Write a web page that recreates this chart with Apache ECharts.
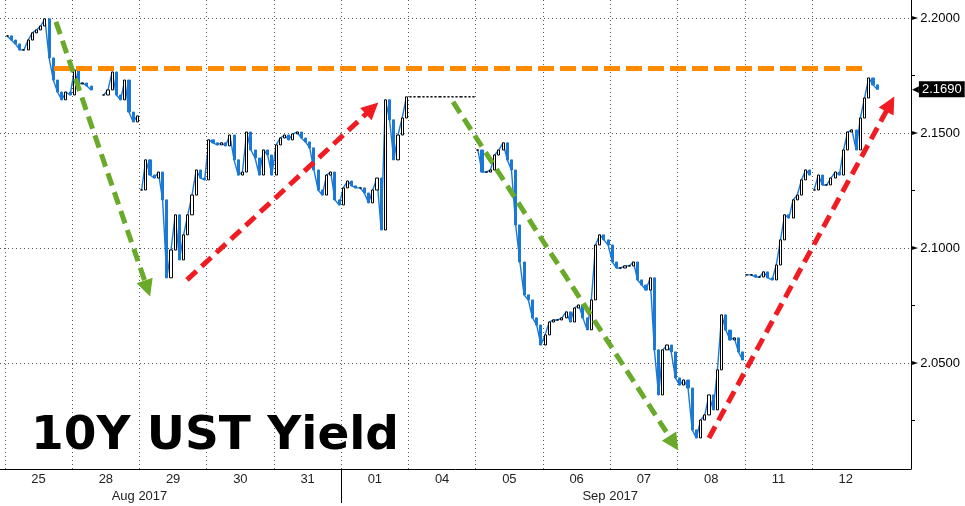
<!DOCTYPE html>
<html><head><meta charset="utf-8">
<script src="https://cdn.jsdelivr.net/npm/echarts@6/dist/echarts.min.js"></script>
<style>html,body{margin:0;padding:0;background:#fff}#c{width:965px;height:506px}</style>
</head><body><div id="c"></div>
<script>
// ---- axis text ----
const dayLabels = ['25','28','29','30','31','01','04','05','06','07','08','11','12'];
const monthLabels = ['Aug 2017','Sep 2017'];
const monthLabelAt = [2, 9];       // day boundary under which each month name sits
const monthBreakAt = [5];          // boundary between Aug and Sep
const yLabelValues = [2.05, 2.10, 2.15, 2.20];
const yMinorTicks = [2.025, 2.075, 2.125, 2.175];
const lastValue = 2.169;
const yMin = 2.0039, yMax = 2.2078;
const xMin = -0.074, xMax = 13.472;

// ---- intraday yields, 16 readings per trading day ----
const samplesPerDay = 16;
const sessionStartDays = [2, 7, 11, 12];   // days that open after a gap
const d25 = [2.1922,2.1904,2.1887,2.1861,2.1861,2.1904,2.1935,2.1948,2.1965,2.1996,2.1826,2.1730,2.1678,2.1644,2.1678,2.1665];
const d28 = [2.1774,2.1713,2.1717,2.1704,2.1687,null,null,2.1665,2.1687,2.1765,2.1665,2.1644,2.1730,2.1591,2.1548,2.1574];
const d29 = [2.1252,2.1383,2.1317,2.1304,2.1330,2.1209,2.0870,2.0991,2.1144,2.0948,2.1057,2.1144,2.1230,2.1339,2.1304,2.1296];
const d30 = [2.1470,2.1457,2.1448,2.1457,2.1444,2.1491,2.1383,2.1317,2.1330,2.1504,2.1426,2.1391,2.1317,2.1426,2.1404,2.1317];
const d31 = [2.1448,2.1478,2.1491,2.1470,2.1496,2.1504,2.1478,2.1461,2.1435,2.1339,2.1252,2.1230,2.1317,2.1330,2.1209,2.1187];
const d01 = [2.1261,2.1291,2.1270,2.1261,2.1261,2.1239,2.1196,2.1252,2.1304,2.1078,2.1644,2.1557,2.1383,2.1491,2.1565,2.1657];
const d04 = [2.1657,2.1657,2.1657,2.1657,2.1657,2.1657,2.1657,2.1657,2.1657,2.1657,2.1657,2.1657,2.1657,2.1657,2.1657,2.1657];
const d05 = [2.1426,2.1330,2.1330,2.1339,2.1404,2.1426,2.1457,2.1383,2.1339,2.1100,2.0939,2.0796,2.0774,2.0696,2.0665,2.0578];
const d06 = [2.0622,2.0678,2.0687,2.0687,2.0696,2.0722,2.0678,2.0739,2.0752,2.0696,2.0644,2.0774,2.1013,2.1057,2.1035,2.1013];
const d07 = [2.0939,2.0913,2.0913,2.0922,2.0922,2.0939,2.0861,2.0839,2.0817,2.0870,2.0557,2.0361,2.0557,2.0578,2.0548,2.0435];
const d08 = [2.0404,2.0426,2.0391,2.0209,2.0174,2.0252,2.0274,2.0361,2.0296,2.0470,2.0709,2.0643,2.0600,2.0609,2.0548,2.0513];
const d11 = [2.0883,2.0883,2.0874,2.0874,2.0896,2.0870,2.0861,2.0926,2.1035,2.1144,2.1130,2.1209,2.1230,2.1296,2.1339,2.1317];
const d12 = [2.1252,2.1317,2.1274,2.1274,2.1304,2.1330,2.1317,2.1426,2.1504,2.1513,2.1426,2.1565,2.1652,2.1739,2.1709,2.1690];
const days = [d25,d28,d29,d30,d31,d01,d04,d05,d06,d07,d08,d11,d12];
const holidayDays = [6];

// ---- annotations (day-index, yield) ----
const resistanceLevel = 2.1783;
const resistanceSpan = [0.729, 12.833];
const greenArrows = [[[0.758,2.1983],[2.117,2.0824]], [[6.662,2.1635],[9.943,2.0151]]];
const redArrows = [[[2.706,2.0861],[5.459,2.1607]], [[10.468,2.0174],[13.163,2.1626]]];

// ---- build OHLC candles and the close line from consecutive readings ----
const candles = [];
const closeLine = [];
let prev = null;
days.forEach((arr, d) => {
  arr.forEach((v, k) => {
    const t = d + (k + 0.5) / samplesPerDay;
    if (v == null) { prev = null; closeLine.push([t, null]); return; }
    const newSession = (k === 0 && sessionStartDays.includes(d));
    if (newSession) closeLine.push([t - 0.5 / samplesPerDay, null]);
    const open = (prev == null || newSession) ? v : prev;
    candles.push([t, open, v, Math.min(open, v), Math.max(open, v)]);
    closeLine.push([t, holidayDays.includes(d) ? null : v]);
    prev = v;
  });
});

const gridLineStyle = { color: '#555', width: 1, type: [1, 3] };
const gridMarks = yLabelValues.map(v => ({ yAxis: v }))
  .concat(dayLabels.map((_, i) => ({ xAxis: i })));

const arrowLine = (pair, color) => [
  { coord: pair[0], symbol: 'none', lineStyle: { color, width: 5, type: [13, 7] } },
  { coord: pair[1], symbol: 'triangle', symbolSize: [17, 17], itemStyle: { color } }
];
const annotations = [
  [ { coord: [resistanceSpan[0], resistanceLevel], symbol: 'none', lineStyle: { color: '#ff8a00', width: 5, type: [16, 6] } },
    { coord: [resistanceSpan[1], resistanceLevel], symbol: 'none' } ]
].concat(greenArrows.map(p => arrowLine(p, '#6aaa2a')))
 .concat(redArrows.map(p => arrowLine(p, '#f01c22')));

const chart = echarts.init(document.getElementById('c'));
chart.setOption({
  animation: false,
  backgroundColor: '#fff',
  title: {
    text: '10Y UST Yield', left: 26, top: 408,
    textStyle: { fontFamily: 'DejaVu Sans', fontWeight: 'bold', fontSize: 47, color: '#000' }
  },
  grid: { left: 0, right: 54, top: 0, bottom: 37, containLabel: false, outerBoundsMode: 'none' },
  xAxis: [
    {
      type: 'value', min: xMin, max: xMax, position: 'bottom',
      axisLine: { show: true, onZero: false, lineStyle: { color: '#000', width: 1 } },
      axisTick: { show: false },
      splitLine: { show: false },
      axisLabel: {
        customValues: dayLabels.map((_, i) => i + 0.5),
        formatter: v => dayLabels[Math.floor(v)],
        margin: 4, fontSize: 13, color: '#222', fontFamily: 'Liberation Sans'
      }
    },
    {
      type: 'value', min: xMin, max: xMax, position: 'bottom',
      axisLine: { show: false, onZero: false },
      axisTick: { show: true, customValues: monthBreakAt, length: 34, lineStyle: { color: '#000', width: 1 } },
      splitLine: { show: false },
      axisLabel: {
        customValues: monthLabelAt,
        formatter: v => monthLabels[monthLabelAt.indexOf(Math.round(v))],
        margin: 21, fontSize: 13, color: '#222', fontFamily: 'Liberation Sans'
      }
    }
  ],
  yAxis: {
    type: 'value', position: 'right', min: yMin, max: yMax,
    axisLine: { show: true, onZero: false, lineStyle: { color: '#000', width: 1 } },
    axisTick: { show: true, customValues: yMinorTicks, length: 4, lineStyle: { color: '#000', width: 1 } },
    splitLine: { show: false },
    axisLabel: {
      customValues: yLabelValues.concat([lastValue]),
      margin: 1,
      formatter: v => Math.abs(v - lastValue) < 1e-6
        ? '{arr|◀}{last|' + v.toFixed(4) + '}'
        : '{tri|►}{num|' + v.toFixed(4) + '}',
      rich: {
        tri: { fontSize: 8, color: '#000', fontFamily: 'DejaVu Sans' },
        num: { fontSize: 13, color: '#000', fontFamily: 'Liberation Sans', padding: [0, 0, 0, 2] },
        arr: { fontSize: 9, color: '#000', fontFamily: 'DejaVu Sans' },
        last: { fontSize: 13, color: '#fff', backgroundColor: '#000', fontFamily: 'Liberation Sans', padding: [2, 3, 1, 3] }
      }
    }
  },
  series: [
    {
      type: 'line', data: [], z: 1, silent: true,
      markLine: { silent: true, z: 1, symbol: 'none', label: { show: false }, lineStyle: gridLineStyle, data: gridMarks }
    },
    {
      type: 'line', data: closeLine, z: 2, silent: true, showSymbol: false, connectNulls: false,
      lineStyle: { color: '#1a78d6', width: 1.4 }
    },
    {
      type: 'candlestick', data: candles, barWidth: 2.6, z: 3, silent: true,
      itemStyle: { color: '#ffffff', color0: '#1a78d6', borderColor: '#000', borderColor0: '#1a78d6', borderColorDoji: '#000', borderWidth: 1 }
    },
    {
      type: 'line', data: [], z: 6, silent: true,
      markLine: { silent: true, z: 6, label: { show: false }, emphasis: { disabled: true }, data: annotations }
    }
  ]
});
</script></body></html>
